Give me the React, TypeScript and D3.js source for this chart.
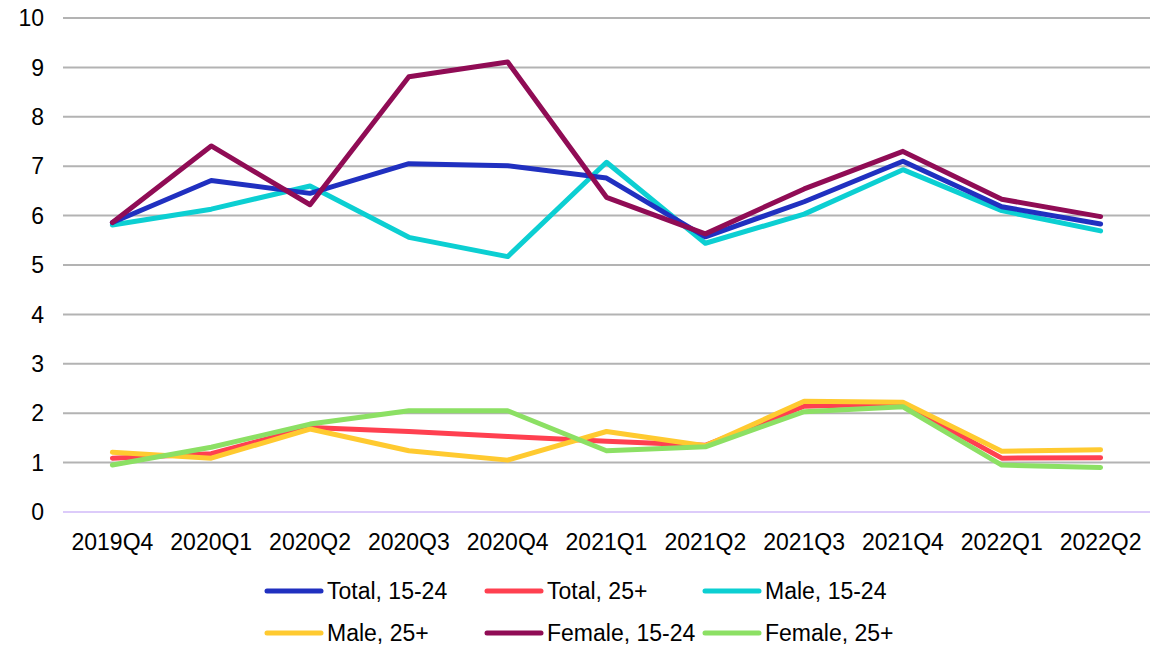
import React from "react";
import * as d3 from "d3";

const categories = ["2019Q4","2020Q1","2020Q2","2020Q3","2020Q4","2021Q1","2021Q2","2021Q3","2021Q4","2022Q1","2022Q2"];
const total1524 = [5.86, 6.71, 6.45, 7.05, 7.01, 6.76, 5.57, 6.28, 7.1, 6.18, 5.83];
const total25 = [1.09, 1.18, 1.71, 1.63, 1.53, 1.43, 1.35, 2.14, 2.19, 1.09, 1.1];
const male1524 = [5.81, 6.13, 6.6, 5.56, 5.17, 7.08, 5.44, 6.03, 6.93, 6.1, 5.69];
const male25 = [1.21, 1.09, 1.68, 1.24, 1.05, 1.63, 1.34, 2.24, 2.22, 1.23, 1.26];
const female1524 = [5.86, 7.41, 6.22, 8.81, 9.11, 6.37, 5.63, 6.54, 7.3, 6.33, 5.98];
const female25 = [0.95, 1.31, 1.78, 2.05, 2.05, 1.24, 1.32, 2.03, 2.13, 0.95, 0.9];
const yTicks = [0,1,2,3,4,5,6,7,8,9,10];

const series = [
  { name: "Total, 15-24", values: total1524, color: "#2030c0" },
  { name: "Total, 25+", values: total25, color: "#ff4050" },
  { name: "Male, 15-24", values: male1524, color: "#0ccfd2" },
  { name: "Male, 25+", values: male25, color: "#ffca30" },
  { name: "Female, 15-24", values: female1524, color: "#900c55" },
  { name: "Female, 25+", values: female25, color: "#8ce064" },
];
const drawOrder = [1, 3, 5, 2, 0, 4];

export default function App() {
  const W = 1157, H = 647;
  const x = d3.scalePoint<string>().domain(categories).range([63, 1150]).padding(0.5);
  const y = d3.scaleLinear().domain([0, 10]).range([512, 18]);
  const line = d3.line<number>().x((_, i) => x(categories[i])!).y(d => y(d));
  const font = "'Liberation Sans', Arial, sans-serif";
  const legendPos = [
    { sx: 267, sy: 591 }, { sx: 487, sy: 591 }, { sx: 705, sy: 591 },
    { sx: 267, sy: 633 }, { sx: 487, sy: 633 }, { sx: 705, sy: 633 },
  ];
  return (
    <svg width={W} height={H} style={{ position: "absolute", left: 0, top: 0, background: "#fff" }} fontFamily={font}>
      {yTicks.map(t => (
        <g key={t}>
          <line x1={63} x2={1150} y1={y(t)} y2={y(t)} stroke={t === 0 ? "#dccbfa" : "#b3b3b3"} strokeWidth={2} />
          <text x={44} y={y(t)} dy="0.36em" textAnchor="end" fontSize={23} fill="#000">{t}</text>
        </g>
      ))}
      {categories.map(c => (
        <text key={c} x={x(c)} y={550} textAnchor="middle" fontSize={23} fill="#000">{c}</text>
      ))}
      {drawOrder.map(i => (
        <path key={series[i].name} d={line(series[i].values)!} fill="none" stroke={series[i].color}
          strokeWidth={5} strokeLinejoin="round" strokeLinecap="round" />
      ))}
      {series.map((s, i) => (
        <g key={s.name}>
          <line x1={legendPos[i].sx} x2={legendPos[i].sx + 54} y1={legendPos[i].sy} y2={legendPos[i].sy}
            stroke={s.color} strokeWidth={5} strokeLinecap="round" />
          <text x={legendPos[i].sx + 60} y={legendPos[i].sy} dy="0.36em" fontSize={23} fill="#000">{s.name}</text>
        </g>
      ))}
    </svg>
  );
}
